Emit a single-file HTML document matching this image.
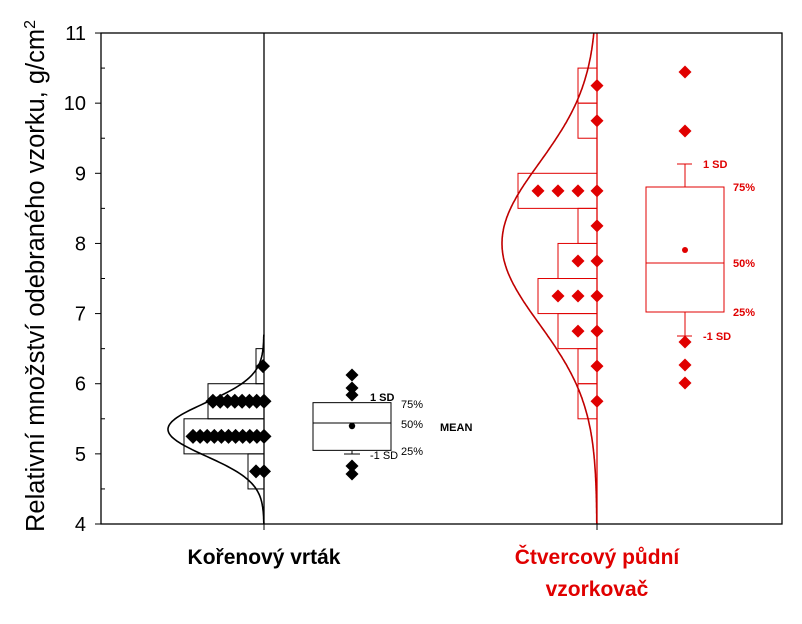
<!DOCTYPE html>
<html><head><meta charset="utf-8"><style>
body{margin:0;background:#fff;}
svg{display:block;font-family:"Liberation Sans",Arial,sans-serif;}
</style></head><body>
<svg id="s" width="802" height="624" viewBox="0 0 802 624" xmlns="http://www.w3.org/2000/svg">
<rect width="802" height="624" fill="#fff"/>
<g id="g"></g>
<text x="0" y="0" transform="translate(44,276) rotate(-90)" text-anchor="middle" font-size="25.5" fill="#000">Relativní množství odebraného vzorku, g/cm<tspan dy="-9" font-size="16">2</tspan></text>
<text x="264" y="564" text-anchor="middle" font-size="21" font-weight="bold" fill="#000">Kořenový vrták</text>
<text x="597" y="564" text-anchor="middle" font-size="21" font-weight="bold" fill="#e00000">Čtvercový půdní</text>
<text x="597" y="596" text-anchor="middle" font-size="21" font-weight="bold" fill="#e00000">vzorkovač</text>
</svg>
<script>
var g=document.getElementById('g'),h='';
function Y(v){return 524-(v-4)*70.14;}
function rect(x1,v1,x2,v2,c){h+='<rect x="'+x1+'" y="'+Y(v2)+'" width="'+(x2-x1)+'" height="'+(Y(v1)-Y(v2))+'" fill="none" stroke="'+c+'" stroke-width="1"/>';}
function dia(x,y,c,r){r=r||6.5;h+='<path d="M'+x+' '+(y-r)+'L'+(x+r)+' '+y+'L'+x+' '+(y+r)+'L'+(x-r)+' '+y+'Z" fill="'+c+'"/>';}
function line(a,b,c,d,col,w){h+='<line x1="'+a+'" y1="'+b+'" x2="'+c+'" y2="'+d+'" stroke="'+col+'" stroke-width="'+(w||1)+'"/>';}
function txt(x,y,t,c,s,b,anc){h+='<text x="'+x+'" y="'+y+'" font-size="'+s+'" fill="'+c+'"'+(b?' font-weight="bold"':'')+(anc?' text-anchor="'+anc+'"':'')+'>'+t+'</text>';}
for(var v=4;v<=11;v++){line(95,Y(v),101,Y(v),'#000');txt(86,Y(v)+7,v,'#000',20,0,'end');
 if(v<11)line(101,Y(v+0.5),105,Y(v+0.5),'#000');}
var K='#000';
rect(256,6,264,6.5,K);rect(208,5.5,264,6,K);rect(184,5,264,5.5,K);rect(248,4.5,264,5,K);
line(264,33,264,524,K,1.3);
var p='';for(var v=4;v<=6.7;v+=0.02){var x=264-96*Math.exp(-Math.pow(v-5.35,2)/(2*0.38*0.38));p+=(p?'L':'M')+x.toFixed(1)+' '+Y(v).toFixed(1);}
h+='<path d="'+p+'" fill="none" stroke="#000" stroke-width="1.6"/>';
for(var i=0;i<8;i++)dia(264-i*7.3,Y(5.75),K,7.5);
for(var i=0;i<11;i++)dia(264-i*7.1,Y(5.25),K,7.5);
dia(263,Y(6.25),K,7);dia(264,Y(4.75),K,7);dia(256,Y(4.75),K,7);
rect(313,5.05,391,5.73,K);line(313,423,391,423,K);
h+='<circle cx="352" cy="426" r="3.2" fill="#000"/>';
line(352,451,352,454,K);line(344,454,360,454,K);
[375,388,395,466,474].forEach(function(y){dia(352,y,K,6.5);});
txt(370,401,'1 SD',K,11,1);txt(401,408,'75%',K,11);txt(401,428,'50%',K,11);txt(440,431,'MEAN',K,11,1);txt(370,459,'-1 SD',K,11);txt(401,455,'25%',K,11);
var R='#e00000';
rect(578,10,597,10.5,R);rect(578,9.5,597,10,R);rect(518,8.5,597,9,R);rect(578,8,597,8.5,R);rect(558,7.5,597,8,R);rect(538,7,597,7.5,R);rect(558,6.5,597,7,R);rect(578,6,597,6.5,R);rect(578,5.5,597,6,R);
line(597,33,597,524,R,1.3);
p='';for(var v=4;v<=11;v+=0.02){var x=597-95*Math.exp(-Math.pow(v-8.0,2)/(2*1.15*1.15));p+=(p?'L':'M')+x.toFixed(1)+' '+Y(v).toFixed(1);}
h+='<path d="'+p+'" fill="none" stroke="#c00000" stroke-width="1.6"/>';
[10.25,9.75,8.25,6.25,5.75].forEach(function(v){dia(597,Y(v),R);});
[538,558,578,597].forEach(function(x){dia(x,Y(8.75),R);});
[578,597].forEach(function(x){dia(x,Y(7.75),R);dia(x,Y(6.75),R);});
[558,578,597].forEach(function(x){dia(x,Y(7.25),R);});
h+='<rect x="646" y="187" width="78" height="125" fill="none" stroke="'+R+'"/>';line(646,263,724,263,R);
h+='<circle cx="685" cy="250" r="3" fill="'+R+'"/>';
line(685,164,685,187,R);line(677,164,692,164,R);line(685,312,685,336,R);line(677,336,692,336,R);
[72,131,342,365,383].forEach(function(y){dia(685,y,R,6.5);});
txt(703,168,'1 SD',R,11,1);txt(733,191,'75%',R,11,1);txt(733,267,'50%',R,11,1);txt(733,316,'25%',R,11,1);txt(703,340,'-1 SD',R,11,1);
h+='<rect x="101" y="33" width="681" height="491" fill="none" stroke="#000" stroke-width="1.3"/>';
line(264,524,264,530,K);line(597,524,597,530,K);
g.innerHTML=h;
</script>
</body></html>
